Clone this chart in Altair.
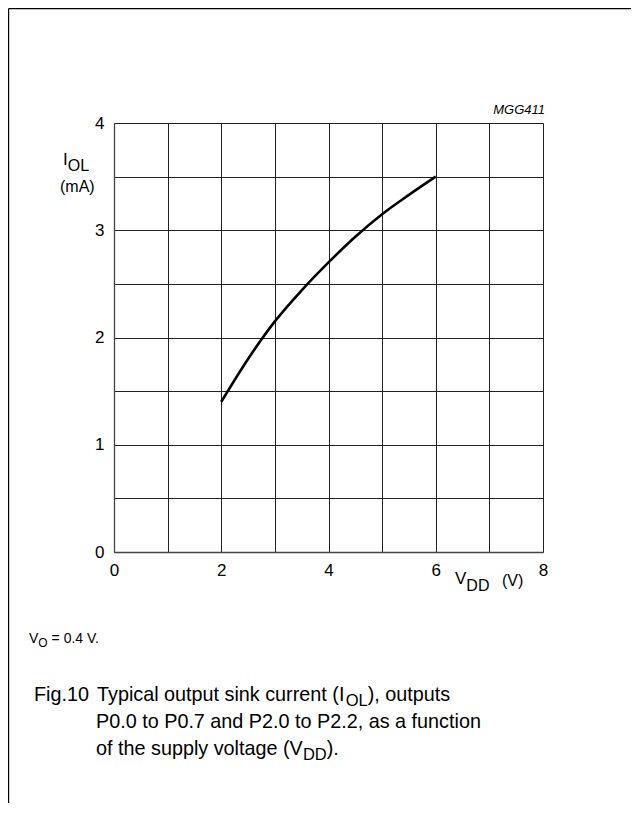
import altair as alt
import pandas as pd

# ---- data ----
vdd = [2.0, 2.5, 3.0, 3.5, 4.0, 4.5, 5.0, 5.5, 6.0]
iol = [1.40, 1.80, 2.15, 2.44, 2.70, 2.94, 3.15, 3.33, 3.50]
x_ticks = [0, 1, 2, 3, 4, 5, 6, 7, 8]
y_ticks = [0, 0.5, 1, 1.5, 2, 2.5, 3, 3.5, 4]

FONT = "Liberation Sans"
PW, PH = 429, 429          # plot area
PAD_L, PAD_T = 106, 115    # plot origin on page = (114, 123)
TOT_W, TOT_H = 623, 795

ARIAL = {' ': 278, '(': 333, ')': 333, ',': 278, '.': 278, '=': 584,
         'A': 667, 'D': 722, 'F': 611, 'I': 278, 'L': 556, 'O': 778, 'P': 667,
         'T': 611, 'V': 667, 'a': 556, 'c': 500, 'd': 556, 'e': 556, 'f': 278,
         'g': 556, 'h': 556, 'i': 222, 'k': 500, 'l': 222, 'm': 833, 'n': 556,
         'o': 556, 'p': 556, 'r': 333, 's': 500, 't': 278, 'u': 556, 'v': 500,
         'y': 500}
for d in "0123456789":
    ARIAL[d] = 556


def tw(s, size):
    return sum(ARIAL.get(c, 556) for c in s) / 1000.0 * size


def txt(s, px, py, size, align="left", italic=False):
    """text piece at page coordinates (px, py) = left/right x, baseline y"""
    lead = len(s) - len(s.lstrip(" "))
    if align == "left" and lead:
        px += tw(" " * lead, size)
        s = s.lstrip(" ")
    kw = dict(text=s, font=FONT, fontSize=size, align=align,
              baseline="alphabetic", color="black")
    if italic:
        kw["fontStyle"] = "italic"
    return alt.Chart(pd.DataFrame({"k": [0]})).mark_text(**kw).encode(
        x=alt.value(px - 114), y=alt.value(py - 123))


def run(pieces, x0, base):
    """pieces: list of (text, size, baseline shift)"""
    layers = []
    x = x0
    for s, size, dy in pieces:
        layers.append(txt(s, x, base + dy, size))
        x += tw(s, size)
    return layers


df = pd.DataFrame({"vdd": vdd, "iol": iol})

axis_common = dict(title=None, ticks=False, labelFont=FONT, labelFontSize=17,
                   labelColor="black", labelPadding=10, labelFlush=False,
                   domainColor="#444", domainWidth=1.3,
                   grid=True, gridColor="#222", gridWidth=1, gridOpacity=1)

base = alt.Chart(df).mark_line(color="black", strokeWidth=2.6,
                               interpolate="monotone").encode(
    x=alt.X("vdd:Q", scale=alt.Scale(domain=[0, 8], nice=False),
            axis=alt.Axis(values=x_ticks,
                          labelExpr="datum.value % 2 == 0 ? format(datum.value, 'd') : ''",
                          **axis_common)),
    y=alt.Y("iol:Q", scale=alt.Scale(domain=[0, 4], nice=False),
            axis=alt.Axis(values=y_ticks,
                          labelExpr="datum.value % 1 == 0 ? format(datum.value, 'd') : ''",
                          **axis_common)),
)

layers = [base]

# outer frame (top and left)
one = pd.DataFrame({"k": [0]})
layers.append(alt.Chart(one).mark_rule(color="black", strokeWidth=1.2).encode(
    x=alt.value(-PAD_L + 0.6), x2=alt.value(TOT_W - PAD_L),
    y=alt.value(-PAD_T + 0.6)))
layers.append(alt.Chart(one).mark_rule(color="black", strokeWidth=1.2).encode(
    x=alt.value(-PAD_L + 0.6), y=alt.value(-PAD_T + 0.6),
    y2=alt.value(TOT_H - PAD_T)))

# figure code
layers.append(txt("MGG411", 545, 114, 13, align="right", italic=True))

# y-axis title  I_OL (mA)
layers += run([("I", 17, 0), ("OL", 16, 6)], 63, 165)
layers.append(txt("(mA)", 60, 192, 16))

# x-axis title  V_DD (V)
layers += run([("V", 17, 0), ("DD", 16, 7)], 455, 584)
layers.append(txt("(V)", 502, 586, 16))

# condition note
layers += run([("V", 14, 0), ("O", 12, 4), (" = 0.4 V.", 14, 0)], 29, 643)

# caption
CS, SS = 19.8, 16.5
layers.append(txt("Fig.10", 34, 701, CS))
layers += run([("Typical output sink current (I", CS, 0), ("OL", SS, 5),
               ("), outputs", CS, 0)], 97, 701)
layers.append(txt("P0.0 to P0.7 and P2.0 to P2.2, as a function", 96, 728, CS))
layers += run([("of the supply voltage (V", CS, 0), ("DD", SS, 5),
               (").", CS, 0)], 96, 755)

chart = alt.layer(*layers).properties(
    width=PW, height=PH,
    autosize=alt.AutoSizeParams(type="none"),
    padding={"left": PAD_L, "top": PAD_T,
             "right": TOT_W - PAD_L - PW, "bottom": TOT_H - PAD_T - PH},
    background="white",
).configure_view(strokeWidth=0)

chart.save("out.html", embed_options={"renderer": "svg", "actions": False})
